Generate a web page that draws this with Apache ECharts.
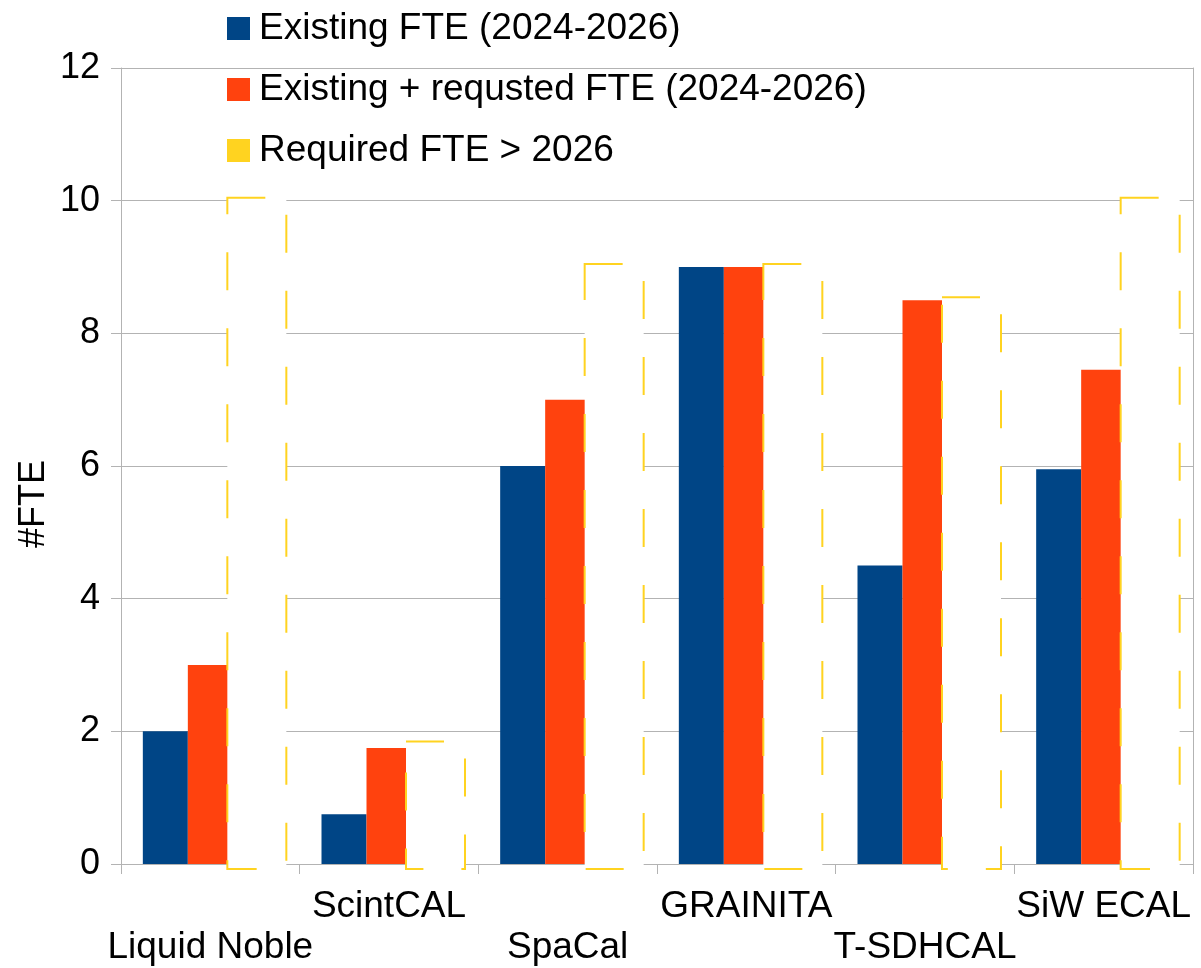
<!DOCTYPE html>
<html>
<head>
<meta charset="utf-8">
<title>FTE</title>
<script src="https://cdn.jsdelivr.net/npm/echarts@6/dist/echarts.min.js"></script>
<style>
  html, body { margin: 0; padding: 0; background: #fff; }
  #chart { width: 1201px; height: 968px; }
</style>
</head>
<body>
<div id="chart"></div>
<script>
  // data
  var categories = ['Liquid Noble', 'ScintCAL', 'SpaCal', 'GRAINITA', 'T-SDHCAL', 'SiW ECAL'];
  var existing = [2, 0.75, 6, 9, 4.5, 5.95];
  var requested = [3, 1.75, 7, 9, 8.5, 7.45];
  var required = [10, 1.8, 9, 9, 8.5, 10];
  var seriesNames = ['Existing FTE (2024-2026)', 'Existing + requsted FTE (2024-2026)', 'Required FTE > 2026'];
  var yTicks = [0, 2, 4, 6, 8, 10, 12];

  var font = '"Liberation Sans", Arial, sans-serif';
  var gridColor = '#b3b3b3';
  var fs = 37;

  // the "required" boxes: white, dashed yellow outline, a little wider than a bar
  function requiredBox(params, api) {
    var top = api.coord([api.value(0), api.value(1)]);
    var base = api.coord([api.value(0), 0]);
    var x0 = top[0] + 17, x1 = top[0] + 76;
    var y0 = top[1] - 3, y1 = base[1] + 5;
    return {
      type: 'rect',
      shape: { x: x0, y: y0, width: x1 - x0, height: y1 - y0 },
      style: { fill: '#ffffff', stroke: '#ffd320', lineWidth: 2, lineDash: [38, 38] }
    };
  }

  var myChart = echarts.init(document.getElementById('chart'));
  myChart.setOption({
    animation: false,
    textStyle: { fontFamily: font },
    grid: { left: 121, right: 8, top: 68, bottom: 103 },
    legend: {
      orient: 'vertical',
      left: 227,
      top: 10,
      padding: 0,
      icon: 'rect',
      itemWidth: 23,
      itemHeight: 23,
      itemGap: 24,
      textStyle: { fontSize: fs, lineHeight: 36, color: '#000', fontFamily: font, padding: [0, 0, 0, 4] },
      data: [
        { name: seriesNames[0] },
        { name: seriesNames[1] },
        { name: seriesNames[2], itemStyle: { color: '#ffd320', borderWidth: 0 } }
      ]
    },
    graphic: [{
      type: 'text',
      x: 34, y: 504,
      rotation: Math.PI / 2,
      style: { text: '#FTE', fontSize: 36, fontFamily: font, fill: '#000', align: 'center', verticalAlign: 'middle' }
    }],
    xAxis: {
      type: 'category',
      data: categories,
      axisLine: { lineStyle: { color: gridColor, width: 1 } },
      axisTick: { show: true, length: 10, lineStyle: { color: gridColor } },
      axisLabel: {
        interval: 0,
        color: '#000',
        fontSize: fs,
        lineHeight: 41,
        margin: 22,
        formatter: function (v, i) { return i % 2 === 0 ? '\n' + v : v; }
      }
    },
    yAxis: [{
      type: 'value',
      min: yTicks[0],
      max: yTicks[yTicks.length - 1],
      interval: 2,
      axisLine: { show: true, lineStyle: { color: gridColor } },
      axisTick: { show: true, length: 10, lineStyle: { color: gridColor } },
      axisLabel: { color: '#000', fontSize: 36, margin: 21 },
      splitLine: { lineStyle: { color: gridColor } }
    }, {
      type: 'value',
      position: 'right',
      min: yTicks[0],
      max: yTicks[yTicks.length - 1],
      interval: 2,
      axisLine: { show: true, lineStyle: { color: gridColor } },
      axisTick: { show: false },
      axisLabel: { show: false },
      splitLine: { show: false }
    }],
    series: [
      {
        name: seriesNames[0],
        type: 'bar',
        data: existing,
        barWidth: 45,
        barGap: '0%',
        itemStyle: { color: '#004586' }
      },
      {
        name: seriesNames[1],
        type: 'bar',
        data: requested,
        barWidth: 45,
        barGap: '0%',
        itemStyle: { color: '#ff420e' }
      },
      {
        // keeps the third bar slot so the first two sit left of centre
        name: 'slot',
        type: 'bar',
        data: required,
        barWidth: 45,
        barGap: '0%',
        silent: true,
        itemStyle: { color: 'rgba(0,0,0,0)' }
      },
      {
        name: seriesNames[2],
        type: 'custom',
        z: 3,
        itemStyle: { color: '#ffd320' },
        renderItem: requiredBox,
        data: required.map(function (v, i) { return [i, v]; })
      }
    ]
  });
</script>
</body>
</html>
